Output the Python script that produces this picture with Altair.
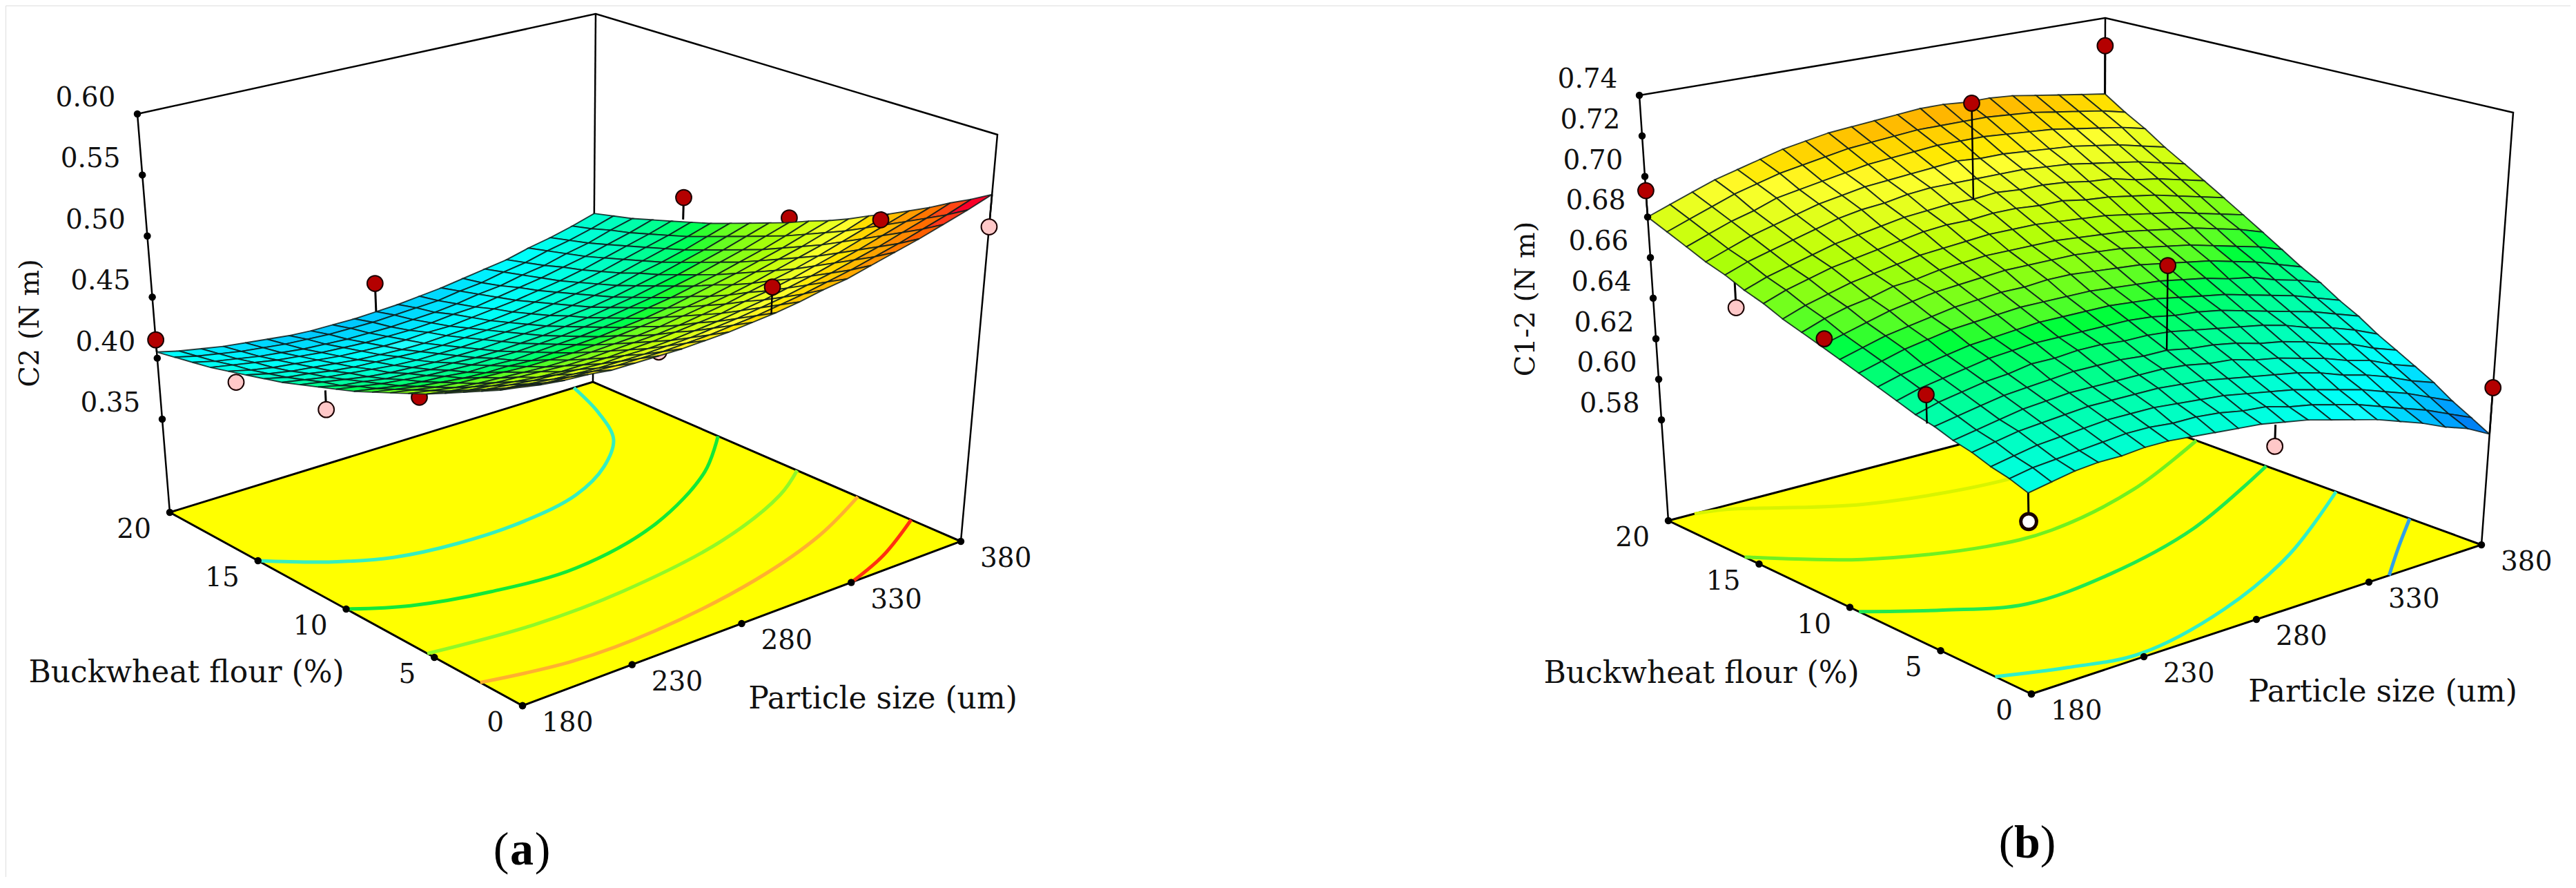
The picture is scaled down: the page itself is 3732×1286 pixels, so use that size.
import altair as alt
import pandas as pd

# response surfaces, one row per buckwheat flour % (0..20), one value per particle size (180..380 by 10)
PS_GRID = list(range(180, 390, 10))
BF_GRID = list(range(0, 21))

Z_A = [
    [.510, .507, .505, .504, .502, .502, .502, .502, .503, .504, .506, .508, .511, .515, .518, .523, .528, .533, .539, .545, .552],
    [.502, .500, .497, .496, .495, .494, .494, .494, .495, .496, .498, .500, .503, .506, .510, .514, .519, .524, .530, .536, .543],
    [.495, .492, .490, .488, .487, .486, .486, .486, .487, .488, .490, .492, .495, .498, .502, .506, .511, .516, .522, .528, .535],
    [.488, .485, .483, .481, .480, .479, .478, .479, .479, .480, .482, .484, .487, .490, .494, .498, .503, .508, .514, .520, .526],
    [.481, .478, .476, .474, .472, .471, .471, .471, .472, .473, .475, .477, .479, .483, .486, .490, .495, .500, .506, .512, .518],
    [.474, .471, .469, .467, .466, .465, .464, .464, .465, .466, .467, .469, .472, .475, .479, .483, .487, .492, .498, .504, .510],
    [.468, .465, .462, .460, .459, .458, .457, .457, .458, .459, .460, .462, .465, .468, .471, .475, .480, .485, .490, .496, .503],
    [.462, .459, .456, .454, .453, .452, .451, .451, .451, .452, .454, .456, .458, .461, .464, .468, .473, .478, .483, .489, .495],
    [.456, .453, .450, .448, .446, .445, .445, .444, .445, .446, .447, .449, .451, .454, .458, .462, .466, .471, .476, .482, .488],
    [.450, .447, .444, .442, .441, .439, .439, .438, .439, .440, .441, .443, .445, .448, .451, .455, .459, .464, .469, .475, .482],
    [.445, .442, .439, .437, .435, .434, .433, .433, .433, .434, .435, .437, .439, .442, .445, .449, .453, .458, .463, .469, .475],
    [.440, .436, .434, .431, .430, .428, .428, .427, .427, .428, .429, .431, .433, .436, .439, .443, .447, .452, .457, .463, .469],
    [.435, .432, .429, .426, .424, .423, .422, .422, .422, .423, .424, .425, .428, .430, .433, .437, .441, .446, .451, .457, .463],
    [.430, .427, .424, .422, .420, .418, .417, .417, .417, .418, .419, .420, .422, .425, .428, .431, .436, .440, .445, .451, .457],
    [.426, .422, .420, .417, .415, .414, .413, .412, .412, .413, .414, .415, .417, .420, .423, .426, .430, .435, .440, .445, .451],
    [.422, .418, .415, .413, .411, .409, .408, .407, .407, .408, .409, .410, .412, .415, .418, .421, .425, .430, .435, .440, .446],
    [.418, .414, .411, .409, .407, .405, .404, .403, .403, .404, .404, .406, .408, .410, .413, .416, .420, .425, .430, .435, .441],
    [.414, .411, .408, .405, .403, .401, .400, .399, .399, .399, .400, .402, .403, .406, .409, .412, .416, .420, .425, .430, .436],
    [.411, .407, .404, .401, .399, .397, .396, .395, .395, .395, .396, .397, .399, .402, .404, .408, .411, .416, .420, .426, .431],
    [.408, .404, .401, .398, .396, .394, .393, .392, .392, .392, .393, .394, .395, .398, .400, .404, .407, .412, .416, .421, .427],
    [.405, .401, .398, .395, .393, .391, .389, .388, .388, .388, .389, .390, .392, .394, .397, .400, .403, .408, .412, .417, .423],
]

Z_B = [
    [.618, .620, .622, .623, .623, .624, .624, .623, .622, .621, .620, .618, .616, .613, .610, .607, .603, .599, .594, .590, .584],
    [.621, .623, .624, .625, .626, .627, .627, .626, .626, .625, .623, .622, .619, .617, .614, .611, .607, .603, .599, .594, .589],
    [.623, .625, .627, .628, .629, .630, .630, .630, .629, .628, .627, .625, .623, .621, .618, .615, .612, .608, .604, .599, .594],
    [.626, .628, .630, .631, .632, .633, .633, .633, .633, .632, .631, .629, .627, .625, .623, .620, .616, .613, .609, .604, .600],
    [.628, .630, .632, .634, .635, .636, .636, .636, .636, .636, .635, .633, .632, .629, .627, .624, .621, .617, .614, .609, .605],
    [.631, .633, .635, .637, .638, .639, .640, .640, .640, .639, .639, .637, .636, .634, .631, .629, .626, .622, .619, .614, .610],
    [.633, .636, .638, .640, .641, .643, .643, .644, .644, .643, .643, .642, .640, .638, .636, .634, .631, .627, .624, .620, .615],
    [.636, .639, .641, .643, .645, .646, .647, .647, .647, .647, .647, .646, .644, .643, .641, .638, .635, .632, .629, .625, .621],
    [.639, .642, .644, .646, .648, .649, .650, .651, .651, .651, .651, .650, .649, .647, .645, .643, .640, .637, .634, .630, .626],
    [.642, .645, .648, .650, .652, .653, .654, .655, .655, .655, .655, .654, .653, .652, .650, .648, .645, .643, .639, .636, .632],
    [.645, .648, .651, .653, .655, .657, .658, .659, .659, .660, .660, .659, .658, .657, .655, .653, .651, .648, .645, .641, .637],
    [.648, .651, .654, .657, .659, .661, .662, .663, .664, .664, .664, .664, .663, .662, .660, .658, .656, .653, .650, .647, .643],
    [.651, .655, .658, .660, .663, .664, .666, .667, .668, .668, .668, .668, .667, .666, .665, .663, .661, .659, .656, .653, .649],
    [.654, .658, .661, .664, .666, .668, .670, .671, .672, .673, .673, .673, .672, .671, .670, .668, .666, .664, .661, .658, .655],
    [.658, .662, .665, .668, .670, .672, .674, .676, .677, .677, .678, .678, .677, .677, .675, .674, .672, .670, .667, .664, .661],
    [.661, .665, .668, .671, .674, .676, .678, .680, .681, .682, .682, .683, .682, .682, .681, .679, .678, .675, .673, .670, .667],
    [.665, .669, .672, .675, .678, .681, .683, .684, .686, .687, .687, .687, .687, .687, .686, .685, .683, .681, .679, .676, .673],
    [.668, .672, .676, .679, .682, .685, .687, .689, .690, .691, .692, .693, .692, .692, .691, .690, .689, .687, .685, .682, .679],
    [.672, .676, .680, .683, .687, .689, .691, .693, .695, .696, .697, .698, .698, .698, .697, .696, .695, .693, .691, .689, .686],
    [.676, .680, .684, .688, .691, .694, .696, .698, .700, .701, .702, .703, .703, .703, .703, .702, .701, .699, .697, .695, .692],
    [.680, .684, .688, .692, .695, .698, .701, .703, .705, .706, .707, .708, .709, .709, .708, .708, .707, .705, .703, .701, .699],
]

# floor contours read as (particle size, buckwheat %)
CONTOURS_A = [
    ("#35eec0", [180, 200, 221, 247, 278, 307, 331, 350, 362, 371], [15, 13.4, 12.3, 11.8, 11.8, 12.4, 13.7, 15.4, 17.6, 20]),
    ("#12e838", [180, 200, 230, 266, 312, 355, 380], [10, 8.8, 7.9, 7.5, 8.6, 11, 13.2]),
    ("#90f828", [180, 224, 266, 320, 361, 380], [5.4, 4.8, 4.9, 5.9, 7.6, 8.9]),
    ("#ffb030", [180, 216, 254, 307, 348, 380], [2.4, 1.6, 1.6, 2.5, 3.9, 5.6]),
    ("#ff3010", [330, 353, 380], [0, 1, 2.7]),
]
CONTOURS_B = [
    ("#d8f400", [192, 204, 247, 300, 324, 380], [20, 19.7, 17.3, 16.2, 16.4, 18.6]),
    ("#70f020", [180, 212, 254, 282, 330, 380], [15.8, 13.2, 11.5, 11.3, 12.6, 15.1]),
    ("#20e850", [180, 204, 230, 270, 320, 380], [9.5, 7.8, 6.4, 6.7, 8.2, 11.4]),
    ("#30eec8", [180, 204, 231, 278, 328, 380], [2, 1, .3, 1.5, 4, 7.7]),
    ("#30a0e8", [339, 358, 380], [0, 1.8, 3.8]),
]

RED = "#b40000"
PINK = "#ffc8c8"
WHITE = "#ffffff"

# design points: particle size, flour, response, fill, drawn under the surface?
POINTS_A = [
    (180, 20, .415, RED, False), (280, 20, .413, RED, True), (380, 15.4, .465, RED, True),
    (380, 10, .479, RED, True), (380, 5.4, .503, RED, False), (380, 0, .526, PINK, False),
    (288, 0, .529, RED, False), (180, 15.6, .412, PINK, True), (180, 10.6, .425, PINK, True),
    (180, 5.4, .469, RED, True), (240, 0, .505, PINK, True),
]
POINTS_B = [
    (380, 20, .725, RED, True), (280, 15, .730, RED, False), (280, 5, .679, RED, False),
    (180, 20, .693, RED, False), (180, 15.5, .651, PINK, True), (180, 10.8, .652, RED, False),
    (180, 5.4, .644, RED, False), (180, 0, .6055, WHITE, True), (286, 0, .608, PINK, True),
    (380, 0, .6065, RED, False),
]

Z_TICKS_A = [.35, .40, .45, .50, .55, .60]
Z_TICKS_B = [.58, .60, .62, .64, .66, .68, .70, .72, .74]
BF_TICKS = [0, 5, 10, 15, 20]
PS_TICKS = [180, 230, 280, 330, 380]

COLOR_STOPS_A = ["#1818ff", "#20ffff", "#20ff30", "#ffff30", "#ff2020"]
COLOR_STOPS_B = ["#0030c0", "#20ffff", "#20ff30", "#ffff30", "#ff2020"]
DOMAIN_A = [.36, .405, .45, .495, .54]
DOMAIN_B = [.578, .61, .65, .69, .73]

# box corners on the page: F front, R right, L left, B back; *T the same corner at the top of the z axis
BOX_A = dict(F=(757, 1022), R=(1392, 784), L=(246, 742), B=(859, 553),
             FT=(748, 386), RT=(1445, 195), LT=(199, 165), BT=(863, 20), z0=.2737, z1=.60)
BOX_B = dict(F=(2943, 1005), R=(3595, 789), L=(2417, 754), B=(3048, 589),
             FT=(2932, 309), RT=(3641, 163), LT=(2375, 138), BT=(3050, 26), z0=.5303, z1=.74)

W, H = 3716, 1262
SERIF = "DejaVu Serif"
LABEL_SIZE = 39
TITLE_SIZE = 44


def project(box, ps, bf, z):
    u, v, t = (ps - 180) / 200, bf / 20, (z - box["z0"]) / (box["z1"] - box["z0"])
    out = []
    for k in (0, 1):
        floor = (box["F"][k] * (1 - u) + box["R"][k] * u) * (1 - v) + (box["L"][k] * (1 - u) + box["B"][k] * u) * v
        top = (box["FT"][k] * (1 - u) + box["RT"][k] * u) * (1 - v) + (box["LT"][k] * (1 - u) + box["BT"][k] * u) * v
        out.append(floor + (top - floor) * t)
    return out


def polygon(corners):
    ring = [list(c) for c in corners] + [list(corners[0])]
    return {"type": "Polygon", "coordinates": [ring]}


def surface_cells(box, grid):
    cells = []
    for j in range(len(BF_GRID) - 2, -1, -1):
        for i in range(len(PS_GRID) - 2, -1, -1):
            idx = [(i, j), (i + 1, j), (i + 1, j + 1), (i, j + 1)]
            corners = [project(box, PS_GRID[a], BF_GRID[b], grid[b][a]) for a, b in idx]
            mean_z = sum(grid[b][a] for a, b in idx) / 4
            cells.append({"type": "Feature", "geometry": polygon(corners), "z": mean_z})
    return cells


def floor_feature(box):
    corners = [box["F"], box["R"], box["B"], box["L"]]
    return {"type": "Feature", "geometry": polygon(corners)}


X = alt.X("px:Q", axis=None, scale=alt.Scale(domain=[8, 8 + W], range=[0, W]))
Y = alt.Y("py:Q", axis=None, scale=alt.Scale(domain=[8, 8 + H], range=[0, H]))
MAP = dict(type="identity", scale=1, translate=[-8, -8])

contour_rows, frame_rows, under_stems, over_stems, under_pts, over_pts = [], [], [], [], [], []
tick_rows, label_rows = [], []
line_id = 0
for box, grid, contours, points, z_ticks in [
    (BOX_A, Z_A, CONTOURS_A, POINTS_A, Z_TICKS_A),
    (BOX_B, Z_B, CONTOURS_B, POINTS_B, Z_TICKS_B),
]:
    for col, ps_list, bf_list in contours:
        line_id += 1
        for k, (ps, bf) in enumerate(zip(ps_list, bf_list)):
            px, py = project(box, ps, bf, box["z0"])
            contour_rows.append(dict(px=px, py=py, c=col, id=line_id, k=k))
    for path in [("L", "LT", "BT", "RT", "R"), ("B", "BT")]:
        line_id += 1
        for k, name in enumerate(path):
            frame_rows.append(dict(px=box[name][0], py=box[name][1], id=line_id, k=k))
    for ps, bf, z, fill, under in points:
        base = grid[round(bf)][round((ps - 180) / 10)]
        px, py = project(box, ps, bf, z)
        bx, by = project(box, ps, bf, base)
        line_id += 1
        stems = under_stems if under else over_stems
        stems.append(dict(px=px, py=py, id=line_id, k=0))
        stems.append(dict(px=bx, py=by, id=line_id, k=1))
        pts = under_pts if under else over_pts
        pts.append(dict(px=px, py=py, c=fill, w=5 if fill == WHITE else 2))
    for z in z_ticks:
        px, py = project(box, 180, 20, z)
        tick_rows.append(dict(px=px, py=py))
        label_rows.append(dict(px=px - 75, py=py - 23, t=f"{z:.2f}", a="center"))
    for bf in BF_TICKS:
        px, py = project(box, 180, bf, box["z0"])
        tick_rows.append(dict(px=px, py=py))
        label_rows.append(dict(px=px - 27, py=py + 25, t=str(bf), a="right"))
    for ps in PS_TICKS:
        px, py = project(box, ps, 0, box["z0"])
        tick_rows.append(dict(px=px, py=py))
        label_rows.append(dict(px=px + 28, py=py + 25, t=str(ps), a="left"))

labels = pd.DataFrame(label_rows)
titles = pd.DataFrame([
    dict(px=270, py=975, t="Buckwheat flour (%)"), dict(px=1279, py=1013, t="Particle size (um)"),
    dict(px=2465, py=976, t="Buckwheat flour (%)"), dict(px=3452, py=1003, t="Particle size (um)"),
])
z_titles = pd.DataFrame([dict(px=44, py=468, t="C2 (N m)"), dict(px=2211, py=433, t="C1-2 (N m)")])
captions = pd.DataFrame([
    dict(px=756 - 30, py=1232, t="("), dict(px=756 + 30, py=1232, t=")"),
    dict(px=2937 - 30, py=1222, t="("), dict(px=2937 + 30, py=1222, t=")"),
])
caption_bold = pd.DataFrame([dict(px=756, py=1232, t="a"), dict(px=2937, py=1222, t="b")])


def lines(rows, width, color="black"):
    return alt.Chart(pd.DataFrame(rows)).mark_line(color=color, strokeWidth=width).encode(
        x=X, y=Y, detail="id:N", order="k:Q"
    )


def markers(rows):
    return alt.Chart(pd.DataFrame(rows)).mark_circle(size=520, stroke="#1a0000", opacity=1).encode(
        x=X, y=Y,
        color=alt.Color("c:N", scale=None),
        strokeWidth=alt.StrokeWidth("w:Q", scale=None),
    )


def surface(box, grid, domain, stops):
    return alt.Chart(alt.Data(values=surface_cells(box, grid))).mark_geoshape(
        stroke="#0c1c1c", strokeWidth=1.9, strokeOpacity=.85
    ).encode(
        color=alt.Color("z:Q", scale=alt.Scale(domain=domain, range=stops), legend=None)
    ).project(**MAP)


def texts(df, size, **kw):
    return alt.Chart(df).mark_text(font=SERIF, fontSize=size, color="#111111", **kw).encode(
        x=X, y=Y, text="t:N"
    )


floors = alt.Chart(alt.Data(values=[floor_feature(BOX_A), floor_feature(BOX_B)])).mark_geoshape(
    fill="#ffff00", stroke="black", strokeWidth=3
).project(**MAP)

contour_lines = alt.Chart(pd.DataFrame(contour_rows)).mark_line(strokeWidth=5, interpolate="catmull-rom").encode(
    x=X, y=Y, color=alt.Color("c:N", scale=None), detail="id:N", order="k:Q"
)

frame_lines = lines(frame_rows, 2.5)
ticks = alt.Chart(pd.DataFrame(tick_rows)).mark_circle(size=110, color="black", opacity=1).encode(x=X, y=Y)

layers = [floors, contour_lines, frame_lines, lines(under_stems, 3), markers(under_pts),
          surface(BOX_A, Z_A, DOMAIN_A, COLOR_STOPS_A), surface(BOX_B, Z_B, DOMAIN_B, COLOR_STOPS_B),
          lines(over_stems, 2.5), markers(over_pts), ticks]
for a in ["center", "left", "right"]:
    layers.append(texts(labels[labels["a"] == a], LABEL_SIZE, align=a))
layers += [
    texts(titles, TITLE_SIZE),
    texts(z_titles, 40, angle=270),
    alt.Chart(captions).mark_text(font="Liberation Serif", fontSize=68, color="black").encode(x=X, y=Y, text="t:N"),
    alt.Chart(caption_bold).mark_text(font="Liberation Serif", fontSize=68, fontWeight="bold", color="black").encode(x=X, y=Y, text="t:N"),
]

chart = alt.layer(*layers).resolve_scale(color="independent").properties(
    width=W, height=H, padding=0, autosize=alt.AutoSizeParams(type="none"),
).configure_view(stroke=None).configure(background="white")

chart.save("out.html", embed_options={"renderer": "svg", "actions": False})
